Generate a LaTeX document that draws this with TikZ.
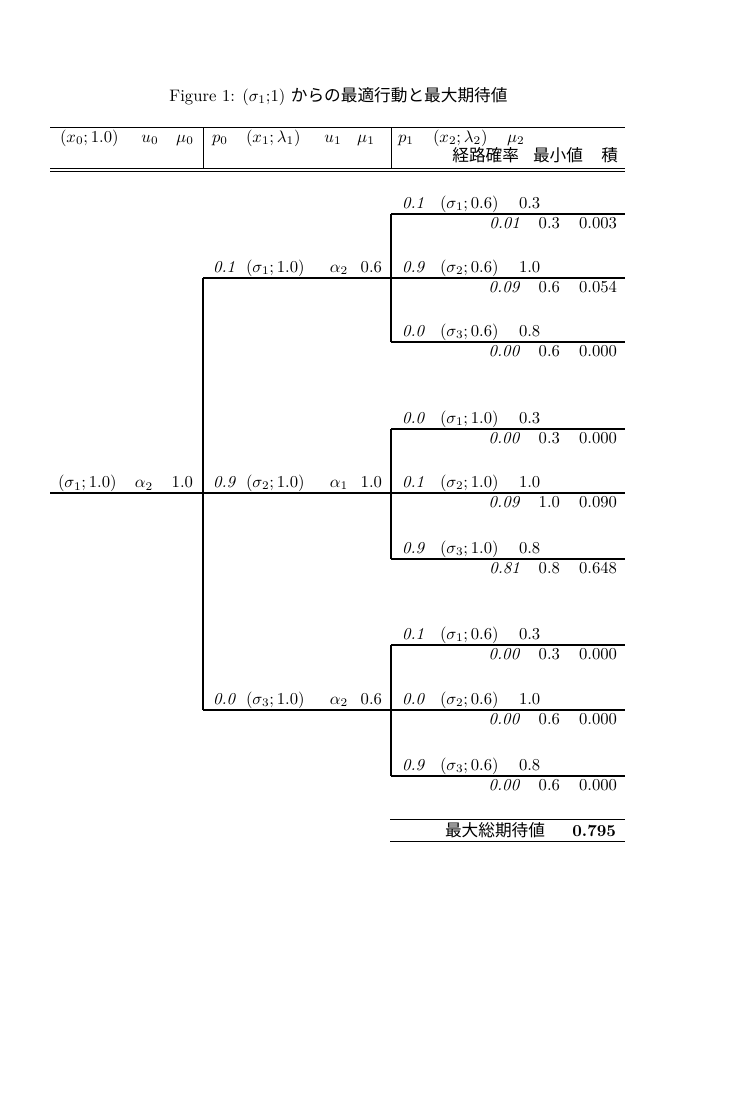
\documentclass[tikz,border=0pt]{standalone}
\usepackage{fontspec}
\newfontfamily\jp{Noto Sans CJK JP}
\begin{document}
\begin{tikzpicture}[x=0.6pt,y=-0.6pt,
  txt/.style={inner sep=0pt,outer sep=0pt},
  rule/.style={line width=0.7pt},
  thin/.style={line width=0.55pt}]
\fill[white] (0,0) rectangle (750,1097);
\useasboundingbox (0,0) rectangle (750,1097);

% ---------- title ----------
\node[txt,anchor=base] (title) at (338.5,101) {Figure 1: $(\sigma_1{;}1)$ {\jp からの最適行動と最大期待値}};

% ---------- header ----------
\coordinate (hTL) at (50,127);   \coordinate (hTR) at (625,127);
\coordinate (hD1L) at (50,168);  \coordinate (hD1R) at (625,168);
\coordinate (hD2L) at (50,171);  \coordinate (hD2R) at (625,171);
\coordinate (hV1t) at (203,127); \coordinate (hV1b) at (203,168);
\coordinate (hV2t) at (391,127); \coordinate (hV2b) at (391,168);
\draw[thin] (hTL) -- (hTR);
\draw[thin] (hD1L) -- (hD1R);
\draw[thin] (hD2L) -- (hD2R);
\draw[thin] (hV1t) -- (hV1b);
\draw[thin] (hV2t) -- (hV2b);

\node[txt,anchor=base west] (hx0) at (60,142) {$(x_0;1.0)$};
\node[txt,anchor=base] (hu0) at (150,142) {$u_0$};
\node[txt,anchor=base] (hm0) at (185,142) {$\mu_0$};
\node[txt,anchor=base west] (hp0) at (212,142) {$p_0$};
\node[txt,anchor=base west] (hx1) at (246,142) {$(x_1;\lambda_1)$};
\node[txt,anchor=base] (hu1) at (333,142) {$u_1$};
\node[txt,anchor=base] (hm1) at (366,142) {$\mu_1$};
\node[txt,anchor=base west] (hp1) at (398,142) {$p_1$};
\node[txt,anchor=base west] (hx2) at (433,142) {$(x_2;\lambda_2)$};
\node[txt,anchor=base west] (hm2) at (507,142) {$\mu_2$};
\node[txt,anchor=base east] (hpp) at (519,161) {\jp 経路確率};
\node[txt,anchor=base] (hmin) at (558,161) {\jp 最小値};
\node[txt,anchor=base east] (hprod) at (618,161) {\jp 積};

% ---------- tree connectors ----------
\coordinate (r0) at (50,493);
\coordinate (j0) at (203,493);
\coordinate (j0t) at (203,278);
\coordinate (j0b) at (203,710);
\coordinate (jA) at (391,278);
\coordinate (jB) at (391,493);
\coordinate (jC) at (391,710);
\coordinate (jAt) at (391,214); \coordinate (jAb) at (391,342);
\coordinate (jBt) at (391,429); \coordinate (jBb) at (391,559);
\coordinate (jCt) at (391,645); \coordinate (jCb) at (391,776);
\coordinate (eA1) at (625,214); \coordinate (eA2) at (625,278); \coordinate (eA3) at (625,342);
\coordinate (eB1) at (625,429); \coordinate (eB2) at (625,493); \coordinate (eB3) at (625,559);
\coordinate (eC1) at (625,645); \coordinate (eC2) at (625,710); \coordinate (eC3) at (625,776);

\draw[rule] (r0) -- (j0);
\draw[rule] (j0t) -- (j0b);
\draw[rule] (j0t) -- (jA) -- (eA2);
\draw[rule] (j0) -- (jB) -- (eB2);
\draw[rule] (j0b) -- (jC) -- (eC2);
\draw[rule] (jAt) -- (jAb);
\draw[rule] (jBt) -- (jBb);
\draw[rule] (jCt) -- (jCb);
\draw[rule] (jAt) -- (eA1);
\draw[rule] (jAb) -- (eA3);
\draw[rule] (jBt) -- (eB1);
\draw[rule] (jBb) -- (eB3);
\draw[rule] (jCt) -- (eC1);
\draw[rule] (jCb) -- (eC3);

% ---------- root row ----------
\node[txt,anchor=base west] (rs) at (58,487.5) {$(\sigma_1;1.0)$};
\node[txt,anchor=base] (ra) at (144,487.5) {$\alpha_2$};
\node[txt,anchor=base east] (rv) at (193,487.5) {1.0};

% ---------- level 1 rows ----------
\newcommand\levone[6]{% name, y, p, state, action, value
  \node[txt,anchor=base west] (#1p) at (213,#2-6) {\textit{#3}};
  \node[txt,anchor=base west] (#1s) at (246,#2-6) {#4};
  \node[txt,anchor=base] (#1a) at (339,#2-6) {#5};
  \node[txt,anchor=base east] (#1v) at (382,#2-6) {#6};
}
\levone{LA}{278}{0.1}{$(\sigma_1;1.0)$}{$\alpha_2$}{0.6}
\levone{LB}{493}{0.9}{$(\sigma_2;1.0)$}{$\alpha_1$}{1.0}
\levone{LC}{710}{0.0}{$(\sigma_3;1.0)$}{$\alpha_2$}{0.6}

% ---------- level 2 rows ----------
\newcommand\levtwo[8]{% name, y, p, state, value, pathp, min, prod
  \node[txt,anchor=base west] (#1p) at (402,#2-6) {\textit{#3}};
  \node[txt,anchor=base west] (#1s) at (440,#2-6) {#4};
  \node[txt,anchor=base west] (#1v) at (519,#2-6) {#5};
  \node[txt,anchor=base east] (#1q) at (520,#2+14.5) {\textit{#6}};
  \node[txt,anchor=base east] (#1m) at (560,#2+14.5) {#7};
  \node[txt,anchor=base east] (#1r) at (617,#2+14.5) {#8};
}
\levtwo{A1}{214}{0.1}{$(\sigma_1;0.6)$}{0.3}{0.01}{0.3}{0.003}
\levtwo{A2}{278}{0.9}{$(\sigma_2;0.6)$}{1.0}{0.09}{0.6}{0.054}
\levtwo{A3}{342}{0.0}{$(\sigma_3;0.6)$}{0.8}{0.00}{0.6}{0.000}
\levtwo{B1}{429}{0.0}{$(\sigma_1;1.0)$}{0.3}{0.00}{0.3}{0.000}
\levtwo{B2}{493}{0.1}{$(\sigma_2;1.0)$}{1.0}{0.09}{1.0}{0.090}
\levtwo{B3}{559}{0.9}{$(\sigma_3;1.0)$}{0.8}{0.81}{0.8}{0.648}
\levtwo{C1}{645}{0.1}{$(\sigma_1;0.6)$}{0.3}{0.00}{0.3}{0.000}
\levtwo{C2}{710}{0.0}{$(\sigma_2;0.6)$}{1.0}{0.00}{0.6}{0.000}
\levtwo{C3}{776}{0.9}{$(\sigma_3;0.6)$}{0.8}{0.00}{0.6}{0.000}

% ---------- total ----------
\coordinate (tL1) at (390,819); \coordinate (tR1) at (625,819);
\coordinate (tL2) at (390,841); \coordinate (tR2) at (625,841);
\draw[thin] (tL1) -- (tR1);
\draw[thin] (tL2) -- (tR2);
\node[txt,anchor=base east] (tlab) at (545,836) {\jp 最大総期待値};
\node[txt,anchor=base east] (tval) at (616,836) {\textbf{0.795}};
\end{tikzpicture}
\end{document}
